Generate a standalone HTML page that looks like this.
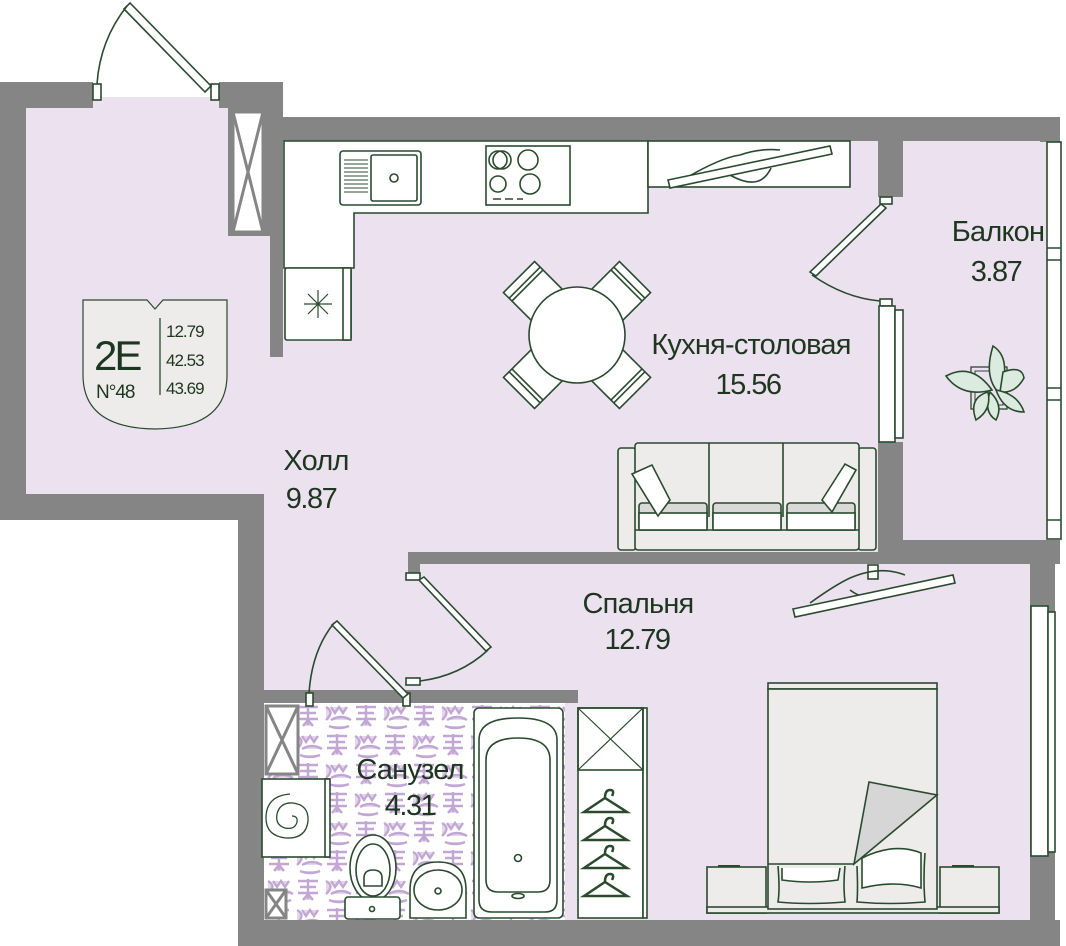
<!DOCTYPE html>
<html><head><meta charset="utf-8"><style>
html,body{margin:0;padding:0;background:#fff;}
svg{display:block}
text{font-family:"Liberation Sans",sans-serif;fill:#1e3620;}
</style></head><body>
<svg width="1066" height="946" viewBox="0 0 1066 946" xmlns="http://www.w3.org/2000/svg">
<defs>
<pattern id="tile" x="265" y="703" width="58" height="58" patternUnits="userSpaceOnUse">
<rect width="58" height="58" fill="#fff"/>
<g fill="#e4d6ec" stroke="#c2a6d4" stroke-width="2.4">
<path d="M3 4 q9 5 0 13 M8 4 l4 6 l4-6 l4 6 l4-6 M8 17 q10 -6 20 0 M6 23 q10 4 20 0"/>
<path d="M33 4 h20 M35 10 h16 M33 16 h20 M43 2 v20 M38 23 l5 -6 l5 6"/>
<path d="M4 33 h20 M6 39 h16 M4 45 h20 M14 31 v20 M9 52 l5 -6 l5 6"/>
<path d="M32 33 q9 5 0 13 M37 33 l4 6 l4-6 l4 6 l4-6 M37 46 q10 -6 20 0 M35 52 q10 4 20 0"/>
</g>
</pattern>
</defs>

<!-- floor fills -->
<rect x="93" y="97" width="126" height="15" fill="#ece2ef"/>
<rect x="26" y="106" width="250" height="395" fill="#ece2ef"/>
<rect x="276" y="138" width="606" height="416" fill="#ece2ef"/>
<rect x="262" y="490" width="316" height="205" fill="#ece2ef"/>
<rect x="415" y="560" width="620" height="362" fill="#ece2ef"/>
<rect x="876" y="140" width="174" height="402" fill="#ece2ef"/>
<rect x="265" y="702" width="300" height="218" fill="url(#tile)"/>

<!-- walls -->
<g fill="#858585">
<rect x="0" y="82" width="26" height="438"/>
<rect x="0" y="494" width="264" height="26"/>
<rect x="238" y="494" width="26" height="452"/>
<rect x="238" y="920" width="822" height="26"/>
<rect x="0" y="82" width="93" height="26"/>
<rect x="219" y="82" width="62" height="26"/>
<rect x="270" y="82" width="13" height="275"/>
<rect x="228" y="108" width="50" height="128"/>
<rect x="283" y="117" width="777" height="24"/>
<rect x="1040" y="117" width="20" height="25"/>
<rect x="878" y="117" width="25" height="80"/>
<rect x="878" y="442" width="25" height="108"/>
<rect x="878" y="540" width="182" height="24"/>
<rect x="408" y="552" width="652" height="12"/>
<rect x="408" y="552" width="12" height="26"/>
<rect x="264" y="690" width="314" height="13"/>
<rect x="565" y="690" width="13" height="13"/>
<rect x="1030" y="552" width="25" height="394"/>
</g>
<!-- vent boxes -->
<g stroke="#858585" stroke-width="3" fill="#fff">
<rect x="233" y="112" width="30" height="120"/>
<path d="M233 112 L263 232 M263 112 L233 232" fill="none"/>
<rect x="266" y="706" width="32" height="68"/>
<path d="M266 706 L298 774 M298 706 L266 774" fill="none"/>
<rect x="266" y="890" width="20" height="28"/>
<path d="M266 890 L286 918 M286 890 L266 918" fill="none"/>
</g>

<g fill="none" stroke="#2a4a2e" stroke-width="1.6">
<!-- entrance door -->
<rect x="93" y="84" width="8" height="16" fill="#fff"/>
<rect x="211" y="84" width="8" height="16" fill="#fff"/>
<polygon points="124,9 130,3 211,86 205,92" fill="#fff"/>
<path d="M127 6 Q100 40 97 84"/>

<!-- balcony door -->
<rect x="880" y="197" width="12" height="7" fill="#fff"/>
<rect x="880" y="299" width="12" height="7" fill="#fff"/>
<polygon points="881,204 886,208 816,276 810,272" fill="#fff"/>
<path d="M812 275 Q845 298 880 301"/>
<rect x="879" y="306" width="16" height="136" fill="#fff"/>
<rect x="895" y="310" width="8" height="128" fill="#fff"/>
<rect x="1047" y="142" width="14" height="397" fill="#fff"/>
<path d="M1047 248 h14 M1047 260 h14 M1047 388 h14 M1047 400 h14 M1047 520 h14"/>
<rect x="1031" y="606" width="17" height="250" fill="#fff"/>
<rect x="1048" y="612" width="7" height="240" fill="#fff"/>

<!-- kitchen counter -->
<path d="M284 141 H648 V213 H354 V268 H284 Z" fill="#fff"/>
<rect x="285" y="268" width="66" height="72" rx="2" fill="#fff"/>
<rect x="343" y="268" width="8" height="72" fill="#fff"/>
<path d="M308 294 l20 20 M328 294 l-20 20 M318 290 v28 M304 304 h28" stroke-width="1.2"/>
<rect x="340" y="151" width="81" height="54" rx="3"/>
<rect x="371" y="155" width="46" height="46" rx="2"/>
<circle cx="394" cy="178" r="4"/>
<path d="M344 160h24M344 164h24M344 168h24M344 172h24M344 176h24M344 180h24M344 184h24M344 188h24M344 192h24" stroke-width="1"/>
<rect x="486" y="146" width="84" height="59"/>
<circle cx="498" cy="160" r="9"/><circle cx="502" cy="160" r="9"/>
<circle cx="498" cy="184" r="8"/>
<circle cx="528" cy="160" r="10"/><circle cx="530" cy="184" r="10"/>
<path d="M493 199h8M505 199h8M517 199h6" stroke-width="1.5"/>
<rect x="648" y="141" width="202" height="46" fill="#fff"/>
<path d="M686 178 Q720 158 740 155 Q760 148 780 150"/>
<path d="M730 175 Q760 192 771 168"/>
<polygon points="668,180 830,146 832,154 670,188" fill="#fff"/>

<!-- table & chairs -->
<g transform="translate(577,335)" fill="#fff">
<g transform="rotate(-45)"><rect x="-22" y="-82" width="44" height="50"/><path d="M-22 -74 H22 M-22 -70 H22"/></g>
<g transform="rotate(45)"><rect x="-22" y="-82" width="44" height="50"/><path d="M-22 -74 H22 M-22 -70 H22"/></g>
<g transform="rotate(135)"><rect x="-22" y="-82" width="44" height="50"/><path d="M-22 -74 H22 M-22 -70 H22"/></g>
<g transform="rotate(-135)"><rect x="-22" y="-82" width="44" height="50"/><path d="M-22 -74 H22 M-22 -70 H22"/></g>
<circle cx="0" cy="0" r="48"/>
</g>

<!-- sofa -->
<rect x="618" y="448" width="18" height="102" rx="3" fill="#edecea"/>
<rect x="858" y="448" width="18" height="102" rx="3" fill="#edecea"/>
<rect x="635" y="443" width="224" height="107" rx="3" fill="#edecea"/>
<path d="M709 443 V517 M783 443 V517 M635 530 H859"/>
<rect x="639" y="503" width="68" height="27" rx="3" fill="#d9d9d7"/>
<rect x="713" y="503" width="68" height="27" rx="3" fill="#d9d9d7"/>
<rect x="787" y="503" width="68" height="27" rx="3" fill="#d9d9d7"/>
<rect x="639" y="513" width="68" height="17" fill="#fff"/>
<rect x="713" y="513" width="68" height="17" fill="#fff"/>
<rect x="787" y="513" width="68" height="17" fill="#fff"/>
<path d="M632 474 L652 465 L670 500 L658 516 Z" fill="#fff"/>
<path d="M856 470 L845 464 L822 500 L832 512 Z" fill="#fff"/>

<!-- plant -->
<rect x="971" y="367" width="36" height="42" stroke-width="1.3"/>
<rect x="975" y="371" width="28" height="34" stroke-width="1"/>
<g fill="#dcebe0" stroke-width="1.6">
<path d="M993 346 Q1012 358 1000 394 Q983 378 993 346Z"/>
<path d="M946 376 Q972 362 992 390 Q962 398 946 376Z"/>
<path d="M1003 372 Q1022 365 1024 378 Q1015 394 1000 392Z"/>
<path d="M996 390 Q1018 394 1024 412 Q1004 412 996 390Z"/>
<path d="M990 392 Q983 412 996 420 Q1004 405 990 392Z"/>
<path d="M988 392 Q968 398 976 420 Q992 410 988 392Z"/>
</g>

<!-- bedroom door -->
<rect x="406" y="573" width="14" height="7" fill="#fff"/>
<rect x="406" y="678" width="14" height="7" fill="#fff"/>
<polygon points="419,580 424,577 491,647 486,651" fill="#fff"/>
<path d="M488 650 Q460 676 420 681"/>
<!-- bathroom door -->
<rect x="306" y="693" width="7" height="13" fill="#fff"/>
<rect x="403" y="693" width="7" height="13" fill="#fff"/>
<polygon points="332,625 337,621 408,694 403,698" fill="#fff"/>
<path d="M334 623 Q312 650 309 693"/>

<!-- bedroom AC -->
<rect x="868" y="565" width="10" height="14" fill="#fff"/>
<path d="M810 603 Q835 585 850 578 Q880 565 905 575"/>
<path d="M850 590 Q870 605 892 592"/>
<polygon points="793,609 953,575 955,583 795,617" fill="#fff"/>

<!-- wardrobe -->
<rect x="578" y="708" width="65" height="210" fill="#fff"/>
<rect x="643" y="708" width="4" height="210" fill="#fff"/>
<rect x="578" y="708" width="65" height="62"/>
<path d="M578 708 L643 770 M643 708 L578 770" stroke-width="1.2"/>
<g stroke-width="2.5">
<path d="M584 812 L605 798 L627 812 Z M605 798 q0-8 5-8 q5 0 2 6"/>
<path d="M584 840 L605 826 L627 840 Z M605 826 q0-8 5-8 q5 0 2 6"/>
<path d="M584 868 L605 854 L627 868 Z M605 854 q0-8 5-8 q5 0 2 6"/>
<path d="M584 896 L605 882 L627 896 Z M605 882 q0-8 5-8 q5 0 2 6"/>
</g>

<!-- bed -->
<rect x="707" y="867" width="59" height="46" fill="#edecea"/>
<rect x="940" y="867" width="59" height="46" fill="#edecea"/>
<rect x="707" y="907" width="292" height="6" fill="#edecea"/>
<path d="M718 866 h22 M952 866 h22" stroke-width="2"/>
<rect x="768" y="683" width="169" height="6" fill="#edecea"/>
<rect x="768" y="689" width="169" height="220" fill="#edecea"/>
<path d="M768 864 H854"/>
<path d="M778 866 Q780 890 778 902 Q808 905 845 902 Q843 885 845 866" fill="none"/>
<path d="M782 868 V880 Q810 884 838 880 L840 868" fill="#fff"/>
<path d="M857 866 Q858 890 857 902 Q890 905 925 902 Q923 880 925 853" fill="none"/>
<path d="M862 858 V888 Q895 880 921 888 V853 Q895 842 862 858Z" fill="#fff"/>
<polygon points="869,782 937,795 854,864" fill="#d6d6d6"/>

<!-- bath -->
<rect x="474" y="708" width="89" height="210" rx="5" fill="#fff"/>
<path d="M479 740 Q479 718 518 718 Q557 718 557 740 V900 Q557 912 545 912 H492 Q479 912 479 900 Z"/>
<path d="M486 760 Q486 738 518 738 Q550 738 550 760 V880 Q550 892 538 892 H498 Q486 892 486 880 Z"/>
<circle cx="518" cy="858" r="3.5"/>
<ellipse cx="518" cy="896" rx="6" ry="2.5"/>
<!-- sink -->
<path d="M410 918 V890 Q410 862 438 862 Q466 862 466 890 V918 Z" fill="#fff"/>
<ellipse cx="438" cy="890" rx="24" ry="20"/>
<circle cx="438" cy="891" r="3"/>
<!-- toilet -->
<ellipse cx="373" cy="868" rx="23" ry="33" fill="#fff"/>
<ellipse cx="373" cy="870" rx="17" ry="26"/>
<path d="M364 886 V878 Q364 870 373 870 Q382 870 382 878 V886 Z"/>
<rect x="345" y="897" width="55" height="22" rx="3" fill="#fff"/>
<circle cx="372" cy="909" r="2.5"/>
<!-- washing machine -->
<rect x="262" y="779" width="67" height="78" fill="#fff"/>
<rect x="325" y="779" width="5" height="78" fill="#fff"/>
<path d="M292 816 q6 0 5 6 q-2 8 -12 6 q-10-3 -8 -14 q3 -12 16 -11 q16 2 15 18 q-2 18 -22 17 q-20 -2 -20 -20 q0 -22 24 -24" stroke-width="1.3"/>

<!-- badge -->
<path d="M83 300 H147 L155 309 L163 300 H227 V375 Q227 428 155 429 Q83 428 83 375 Z" fill="#edecea" stroke-width="1.2"/>
<path d="M160 318 V395" stroke-width="1.3"/>
</g>

<text x="94" y="370" font-size="42" letter-spacing="-3">2E</text>
<text x="96" y="398" font-size="19" letter-spacing="-1">N°48</text>
<text x="166" y="337" font-size="17" letter-spacing="-1">12.79</text>
<text x="166" y="366" font-size="17" letter-spacing="-1">42.53</text>
<text x="166" y="394" font-size="17" letter-spacing="-1">43.69</text>

<g font-size="29" text-anchor="middle" letter-spacing="-0.8">
<text x="751" y="354">Кухня-столовая</text>
<text x="748" y="394" letter-spacing="-1.5">15.56</text>
<text x="998" y="241">Балкон</text>
<text x="996" y="281" letter-spacing="-1.5">3.87</text>
<text x="316" y="470">Холл</text>
<text x="311" y="508" letter-spacing="-1.5">9.87</text>
<text x="638" y="613">Спальня</text>
<text x="637" y="649" letter-spacing="-1.5">12.79</text>
<text x="410" y="779">Санузел</text>
<text x="410" y="815" letter-spacing="-1.5">4.31</text>
</g>
</svg>
</body></html>
